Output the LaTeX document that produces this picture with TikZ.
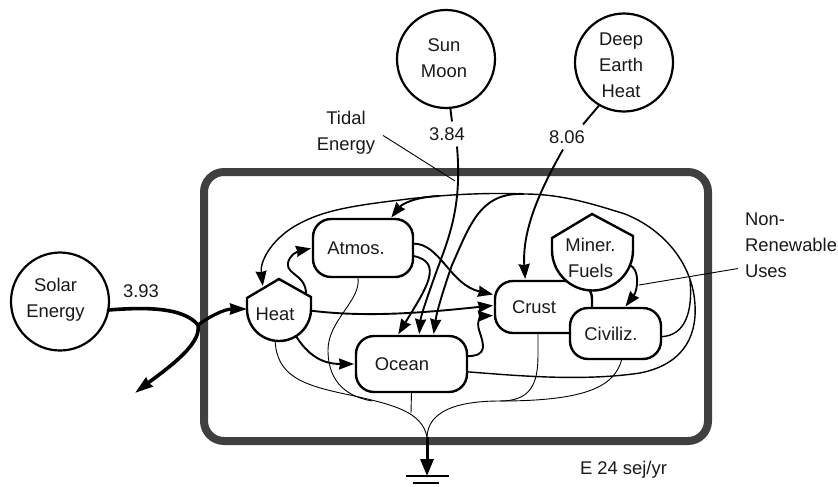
\documentclass[tikz,border=0pt]{standalone}
\usepackage{fontspec}
\setmainfont{Liberation Sans}
\usetikzlibrary{arrows.meta,calc}
\definecolor{frame}{HTML}{404040}
\tikzset{
  lab/.style={font=\fontsize{18.4}{26}\selectfont,inner sep=0pt,outer sep=0pt,align=center,text=black!90},
  labelgap/.style={lab,inner sep=6pt},
  roundbox/.style={lab,draw=black,text=black!90,fill=white,line width=2.4pt,rounded corners=18pt},
  source/.style={circle,draw=black,fill=white,line width=2.2pt,inner sep=0pt,outer sep=0pt,minimum size=98pt},
  anchorcircle/.style={circle,inner sep=0pt,outer sep=0pt},
  shield/.style={draw=black,fill=white,line width=2.4pt,line join=miter},
  bold/.style={line width=1.9pt,-{Stealth[inset=1pt,length=15pt,width=11pt]},shorten >=2pt},
  plain/.style={line width=1.9pt},
  loopline/.style={line width=1.4pt},
  thin line/.style={line width=0.9pt},
  pointer/.style={line width=0.9pt},
  heavy/.style={line width=3.6pt,line cap=round},
}
\begin{document}
\begin{tikzpicture}[x=1pt,y=-1pt]
\useasboundingbox (0,0) rectangle (838,487);
% outer frame
\node[draw=frame,line width=8pt,rounded corners=20pt,minimum width=504pt,minimum height=269pt,inner sep=0pt] (frame) at (456,306.5) {};
% sources
\node[source] (sun) at (446,59) {};
\node[lab] (suntext) at (444,58.5) {Sun\\Moon};
\node[source] (deep) at (624,62.5) {};
\node[lab] (deeptext) at (621,65.5) {Deep\\Earth\\Heat};
\node[source] (solar) at (60,301.5) {};
\node[lab] (solartext) at (55.5,300) {Solar\\Energy};
% value labels
\node[labelgap] (v384) at (447,134) {3.84};
\node[labelgap] (v806) at (567,137) {8.06};
\node[lab] (v393) at (141,291) {3.93};
\node[lab] (tidal) at (346,132.5) {Tidal\\Energy};
\node[lab,align=left,anchor=west] (nonren) at (745,245.5) {Non-\\Renewable\\Uses};
\node[lab,anchor=west] (unit) at (580,470) {E 24 sej/yr};
% storages
\node[anchorcircle,minimum size=64pt] (heat) at (279,309) {};
\node[anchorcircle,minimum size=80pt] (miner) at (592,250) {};
\node[roundbox,minimum width=100pt,minimum height=58pt] (atmos) at (363,248) {Atmos.\hspace{14pt}};
\node[roundbox,minimum width=97pt,minimum height=52pt] (crust) at (543.5,307) {Crust\hspace{19pt}};
\node[roundbox,minimum width=111pt,minimum height=56pt] (ocean) at (411.5,364) {Ocean\hspace{19pt}};
\draw[shield] ($(heat.center)+(-32,0)$) -- ($(heat.center)+(-32,-11)$) -- ($(heat.center)+(0,-30)$) -- ($(heat.center)+(32,-12)$) -- ($(heat.center)+(32,0)$) arc[start angle=0,end angle=-180,radius=32pt] -- cycle;
\draw[shield] ($(miner.center)+(-40,0)$) -- ($(miner.center)+(-40,-12)$) -- ($(miner.center)+(0,-36)$) -- ($(miner.center)+(41,-14)$) -- ($(miner.center)+(41,0)$) arc[start angle=0,end angle=-180,radius=40.5pt] -- cycle;
\node[roundbox,minimum width=91pt,minimum height=51pt] (civil) at (615.5,333.5) {Civiliz.\hspace{9pt}};
\node[lab] (heattext) at (275,314) {Heat};
\node[lab] (minertext) at (590.5,257.5) {Miner.\\Fuels};
% free ends and junctions
\coordinate (heatNW) at (263,288);
\coordinate (heatNE) at (306,295);
\coordinate (topA) at (439,196);
\coordinate (topB) at (524,194);
\coordinate (topC) at (690,280);
\coordinate (sink) at (427,437);
\coordinate (mergeL) at (372,401);
\coordinate (mergeR) at (500,401);
\coordinate (mergeO) at (411,413);
\coordinate (tidalEnd) at (455,181);
\coordinate (nonEnd) at (639,285);
\coordinate (solarJoin) at (198,325);
\coordinate (solarOut) at (135,393);
\coordinate (ground) at (427,476);
% pointers
\draw[pointer] ($(tidal.east)+(8,3)$) -- (tidalEnd);
\draw[pointer] (nonEnd) -- ($(nonren.west)+(-7,23)$);
% thin sink flows
\draw[thin line] (atmos.260) .. controls (362,300) and (328,320) .. (328,350) .. controls (328,385) and (350,397) .. (mergeL);
\draw[thin line] (heat.-97) .. controls (277,375) and (300,385) .. (350,395) .. controls (395,405) and (422,412) .. (sink);
\draw[thin line] (ocean.south) -- (mergeO);
\draw[thin line] (crust.258) -- (538,355) .. controls (538,385) and (530,401) .. (mergeR) .. controls (455,401) and (428,412) .. (sink);
\draw[thin line] (civil.-76) .. controls (615,385) and (590,401) .. (mergeR);
% long loop
\draw[loopline,-{Stealth[inset=1pt,length=15pt,width=11pt]},shorten >=2pt] (ocean.-8) .. controls (510,375) and (580,382) .. (640,373) .. controls (680,365) and (697,340) .. (695,305) .. controls (693,265) and (665,230) .. (625,214) .. controls (590,203) and (560,194) .. (topB) .. controls (480,192) and (430,196) .. (400,200) .. controls (340,207) and (318,213) .. (295,226) .. controls (270,241) and (260,262) .. (heatNW);
% other flows
\draw[bold] (topA) .. controls (415,197) and (402,204) .. (atmos.47);
\draw[bold] (topB) .. controls (480,192) and (470,225) .. (452,265) .. controls (445,285) and (437,310) .. (ocean.52.5);
\draw[bold] ($(v384.south)+(10,0)$) .. controls (462,205) and (450,235) .. (437,270) .. controls (428,295) and (421,315) .. (ocean.75);
\draw[plain] (sun.-85) -- ($(v384.north)+(5,0)$);
\draw[plain] (deep.-120) -- ($(v806.north)+(16,0)$);
\draw[bold] ($(v806.south)+(-4,0)$) .. controls (540,190) and (522,230) .. (crust.125);
\draw[bold] (atmos.5.7) .. controls (440,243) and (450,285) .. (crust.166);
\draw[bold] (atmos.-9) .. controls (445,262) and (425,290) .. (ocean.117);
\draw[bold] (heatNE) .. controls (307,272) and (280,275) .. (290,258) .. controls (293,252) and (303,250) .. (atmos.west);
\draw[bold] (heat.-3.6) .. controls (370,318) and (430,312) .. (crust.178);
\draw[bold] (heat.-58.7) .. controls (308,355) and (322,364) .. (ocean.west);
\draw[bold] (ocean.8) .. controls (488,356) and (484,345) .. (479,330) .. controls (476,320) and (482,316) .. (crust.190.5);
\draw[loopline] (civil.-4.4) .. controls (685,336) and (693,312) .. (topC);
\draw[bold] (miner.-22) .. controls (640,268) and (638,290) .. (civil.71.6);
% sink output
\draw[line width=3pt,-{Stealth[inset=0pt,length=17pt,width=13pt]}] (sink) -- (ground);
\draw[line width=1.4pt] (406,476) -- (449,476);
\draw[line width=2pt] (413,483) -- (439,483);
% solar
\draw[heavy] (solar.-10) .. controls (135,308) and (182,305) .. (solarJoin);
\draw[line width=3.6pt,-{Stealth[inset=1pt,length=18pt,width=11pt]}] (solarJoin) .. controls (202,345) and (165,370) .. (solarOut);
\draw[line width=3.2pt,-{Stealth[inset=1pt,length=17pt,width=11pt]}] (solarJoin) .. controls (210,316) and (225,309) .. (heat.west);
\end{tikzpicture}
\end{document}
